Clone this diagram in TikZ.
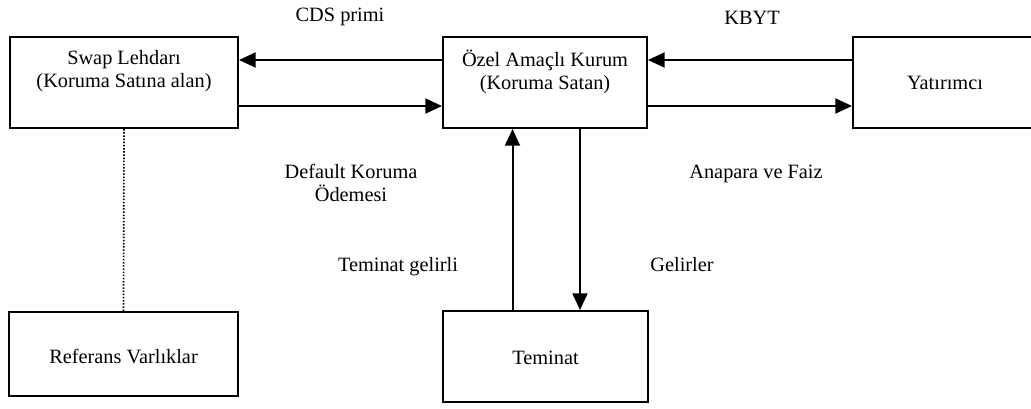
\documentclass[tikz,border=0pt]{standalone}
\usepackage{fontspec}
\setmainfont{Liberation Serif}
\usetikzlibrary{arrows.meta}
\begin{document}
\begin{tikzpicture}[x=0.6pt,y=-0.6pt,
  box/.style={draw,line width=1.2pt,rectangle,inner sep=0pt},
  lbl/.style={font=\fontsize{12.2}{13.8}\selectfont,align=center,inner sep=0pt},
  arr/.style={line width=1.2pt,-{Triangle[length=10pt,width=9pt]}},
  link/.style={line width=1pt,dash pattern=on 0.9pt off 1pt}]
\useasboundingbox (0,0) rectangle (1031,408);

% parties
\node[box,minimum width=136.8pt,minimum height=54.6pt,
  label={[lbl,yshift=6.6pt]center:Swap Lehdarı\\(Koruma Satına alan)}] (swap) at (124,82.5) {};
\node[box,minimum width=122.4pt,minimum height=54.6pt,
  label={[lbl,yshift=6.6pt]center:Özel Amaçlı Kurum\\(Koruma Satan)}] (oz) at (545,82.5) {};
\node[box,minimum width=110.4pt,minimum height=54.6pt,
  label={[lbl]center:Yatırımcı}] (yat) at (945,82.5) {};
\node[box,minimum width=137.4pt,minimum height=50.4pt,
  label={[lbl,yshift=-1.5pt]center:Referans Varlıklar}] (ref) at (123.5,354) {};
\node[box,minimum width=123pt,minimum height=54.6pt,
  label={[lbl,yshift=-1pt]center:Teminat}] (tem) at (545.5,356.5) {};

% flows
\draw[arr] ([yshift=13.5pt]oz.west) -- ([yshift=13.5pt]swap.east);
\draw[arr] ([yshift=-14.1pt]swap.east) -- ([yshift=-14.1pt]oz.west);
\draw[arr] ([yshift=13.5pt]yat.west) -- ([yshift=13.5pt]oz.east);
\draw[arr] ([yshift=-14.1pt]oz.east) -- ([yshift=-14.1pt]yat.west);
\draw[arr] ([xshift=-19.8pt]tem.north) -- ([xshift=-19.8pt]tem.north |- oz.south);
\draw[arr] ([xshift=21pt]oz.south) -- ([xshift=21pt]oz.south |- tem.north);
\draw[link] (swap.south) -- (ref.north);

% flow labels
\node[lbl,anchor=base] (cds) at (340,21) {CDS primi};
\node[lbl,anchor=base] (kbyt) at (752,24) {KBYT};
\node[lbl] (dko) at (351,183) {Default Koruma\\Ödemesi};
\node[lbl,anchor=base] (af) at (756,178) {Anapara ve Faiz};
\node[lbl,anchor=base] (tg) at (398,271) {Teminat gelirli};
\node[lbl,anchor=base] (gel) at (682,271) {Gelirler};
\end{tikzpicture}
\end{document}
